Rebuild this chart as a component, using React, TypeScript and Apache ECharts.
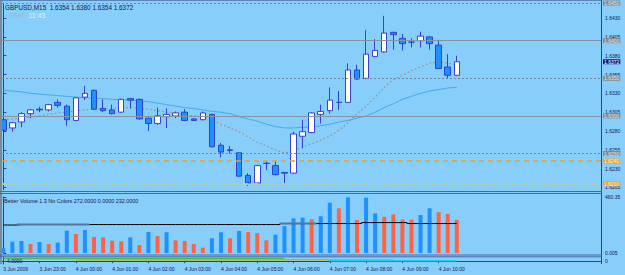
import React, { useEffect, useRef } from "react";
import * as echarts from "echarts";

// ---- price data (GBPUSD M15), bar index 0 = 3 Jun 22:00 ----
const opens = [1.6295, 1.6284, 1.6292, 1.6303, 1.6309, 1.6308, 1.6318, 1.6313, 1.6294, 1.6325, 1.6334, 1.631, 1.6308, 1.6305, 1.6323, 1.6322, 1.6297, 1.629, 1.6299, 1.63, 1.6305, 1.6296, 1.6295, 1.6302, 1.6261, 1.6255, 1.6251, 1.6221, 1.6211, 1.6237, 1.6234, 1.6225, 1.6224, 1.6273, 1.6278, 1.6302, 1.6307, 1.6318, 1.6318, 1.6361, 1.635, 1.6379, 1.6385, 1.6411, 1.6403, 1.6398, 1.64, 1.6405, 1.6394, 1.6365, 1.6354];
const highs = [1.6297, 1.6292, 1.6305, 1.6309, 1.6312, 1.6316, 1.6322, 1.6315, 1.6325, 1.634, 1.6335, 1.6322, 1.6315, 1.6323, 1.6324, 1.6323, 1.6298, 1.6311, 1.631, 1.6306, 1.6309, 1.6297, 1.6306, 1.6303, 1.6264, 1.626, 1.6252, 1.6224, 1.6235, 1.624, 1.624, 1.6225, 1.6279, 1.6295, 1.6305, 1.6315, 1.6338, 1.6333, 1.637, 1.6368, 1.6414, 1.6402, 1.6433, 1.6412, 1.6409, 1.6403, 1.6412, 1.6406, 1.6401, 1.6382, 1.638];
const lows = [1.628, 1.6279, 1.6285, 1.6297, 1.6305, 1.6306, 1.6311, 1.6287, 1.6293, 1.6321, 1.6308, 1.6305, 1.6302, 1.6304, 1.631, 1.6295, 1.628, 1.6288, 1.6284, 1.6297, 1.6293, 1.6293, 1.6294, 1.6258, 1.6245, 1.625, 1.6219, 1.6207, 1.621, 1.6228, 1.6221, 1.6208, 1.6223, 1.6257, 1.6277, 1.629, 1.6303, 1.6308, 1.6317, 1.6348, 1.6349, 1.6378, 1.6384, 1.6388, 1.6387, 1.6391, 1.6391, 1.6388, 1.6362, 1.635, 1.6354];
const closes = [1.6281, 1.6291, 1.6303, 1.6308, 1.6308, 1.6315, 1.6314, 1.6295, 1.6324, 1.633, 1.6309, 1.6307, 1.6303, 1.6322, 1.6321, 1.6296, 1.629, 1.63, 1.6302, 1.6304, 1.6294, 1.6294, 1.6304, 1.6259, 1.6252, 1.6254, 1.622, 1.6211, 1.6234, 1.6237, 1.6222, 1.6224, 1.6276, 1.6279, 1.6304, 1.6306, 1.6321, 1.6318, 1.6361, 1.6349, 1.6382, 1.6387, 1.641, 1.6408, 1.6396, 1.6398, 1.6406, 1.6396, 1.6363, 1.6354, 1.6372];

// moving averages
const maSlow = [1.6334, 1.6333, 1.6332, 1.633, 1.6329, 1.6328, 1.6327, 1.6326, 1.6325, 1.6324, 1.63236, 1.6323, 1.6322, 1.63216, 1.6321, 1.632, 1.6319, 1.6317, 1.6315, 1.6313, 1.6311, 1.631, 1.6308, 1.6306, 1.6305, 1.6303, 1.6299, 1.6296, 1.6293, 1.6289, 1.6286, 1.6284, 1.6284, 1.6285, 1.6285, 1.6287, 1.6289, 1.6292, 1.6294, 1.6297, 1.63, 1.6305, 1.6311, 1.6316, 1.6322, 1.6326, 1.633, 1.6333, 1.6335, 1.6337, 1.6338];
const maFast = [1.6295, 1.6296, 1.6297, 1.62986, 1.63, 1.6302, 1.6304, 1.6305, 1.6307, 1.6308, 1.6309, 1.6309, 1.631, 1.6311, 1.6311, 1.631, 1.6309, 1.6307, 1.6305, 1.6304, 1.6302, 1.63, 1.6298, 1.6295, 1.6289, 1.6284, 1.6279, 1.6272, 1.6265, 1.626, 1.6255, 1.6251, 1.6253, 1.6259, 1.6263, 1.6268, 1.6273, 1.6281, 1.6291, 1.6303, 1.6313, 1.6325, 1.6338, 1.6348, 1.6354, 1.636, 1.6365, 1.637, 1.6372, 1.637, 1.6368];

// Better Volume
const volumes = [39, 93, 99, 74, 90, 74, 85, 183, 156, 189, 132, 129, 101, 96, 129, 66, 173, 140, 170, 104, 99, 74, 44, 121, 170, 121, 181, 173, 164, 104, 150, 222, 285, 290, 277, 302, 413, 367, 458, 271, 455, 326, 298, 318, 274, 274, 312, 367, 335, 321, 272];
const volKind = ["b", "b", "b", "r", "b", "r", "b", "b", "r", "b", "r", "r", "r", "r", "b", "r", "b", "r", "b", "r", "r", "r", "r", "b", "b", "r", "b", "r", "r", "r", "b", "b", "b", "b", "r", "b", "b", "r", "b", "r", "b", "b", "r", "r", "r", "r", "b", "b", "r", "r", "r"];
const volAvg = [230, 230, 234, 234, 234, 234, 234, 234, 234, 234, 234, 234, 234, 234, 234, 234, 234, 234, 234, 234, 234, 234, 234, 234, 234, 234, 234, 234, 234, 234, 234, 242, 242, 242, 242, 242, 242, 242, 242, 242, 250, 250, 250, 250, 250, 242, 242, 242, 242, 242, 242];
const volAvgShadeRanges = [[2, 9], [31, 34]];

// tiny bottom indicator segments [fromIndex, toIndex, level]
const segGreen = [0, 31, 3];
const segYellow = [8, 43, 1.5];
const segCyan = [36, 50, 0.5];

// axes
const timeTickIdx = [0, 4, 8, 12, 16, 20, 24, 28, 32, 36, 40, 44, 48];
const timeLabels = ["3 Jun 2009", "3 Jun 23:00", "4 Jun 00:00", "4 Jun 01:00", "4 Jun 02:00", "4 Jun 03:00", "4 Jun 04:00", "4 Jun 05:00", "4 Jun 06:00", "4 Jun 07:00", "4 Jun 08:00", "4 Jun 09:00", "4 Jun 10:00"];
const priceTicks = [1.6205, 1.623, 1.6255, 1.628, 1.6305, 1.633, 1.6355, 1.638, 1.6405, 1.643];
const volTicks = [0, 460.35];
const volTickText = ["0.005", "460.35"];

// horizontal levels
const dottedLevels = [1.645, 1.635, 1.625];
const solidLevels = [1.64, 1.63];
const orangeLevel = 1.624;
const greenLevel = 1.621;
const bidPrice = 1.6372;

const FONT = "Liberation Sans";
const BG = "#87CEFA";
const AXIS = "#22449a";
const TXT = "#10184c";

export default function App() {
  const ref = useRef<HTMLDivElement>(null);
  useEffect(() => {
    const chart = echarts.init(ref.current as HTMLDivElement, null, { renderer: "svg" });
    const xMin = -0.1433;
    const xMax = 65.9;
    const candleData = opens.map((o, i) => [i, o, closes[i], lows[i], highs[i]]);
    const seg = (s: number[]) => opens.map((_, i) => [i, i >= s[0] && i <= s[1] ? s[2] : null]);
    const shade = volAvg.map((v, i) => [i, volAvgShadeRanges.some((r) => i >= r[0] && i <= r[1]) ? v : null]);

    const boxLabel = (txt: string, bg: string, fg: string) => ({
      show: true,
      position: "end",
      distance: 2,
      formatter: txt,
      backgroundColor: bg,
      color: fg,
      fontSize: 5,
      fontFamily: FONT,
      padding: [0, 1, 0, 1],
      lineHeight: 5,
    });

    const markData: any[] = [];
    dottedLevels.forEach((v) =>
      markData.push({ yAxis: v, lineStyle: { color: "#74869a", type: [2, 2], width: 1 }, label: boxLabel(v.toFixed(4), "#8a8a8a", "#e0e4ea") })
    );
    solidLevels.forEach((v) =>
      markData.push({ yAxis: v, lineStyle: { color: "#8494a2", type: "solid", width: 1 }, label: boxLabel(v.toFixed(4), "#8a8a8a", "#e0e4ea") })
    );
    markData.push({ yAxis: orangeLevel, lineStyle: { color: "#f0a020", type: [5, 4], width: 1.5 }, label: boxLabel(orangeLevel.toFixed(4), "#f0a530", "#fff4dc") });
    markData.push({ yAxis: greenLevel, lineStyle: { color: "#b4cca6", type: [6, 4], width: 2 }, label: boxLabel(greenLevel.toFixed(4), "#f0a530", "#fff4dc") });
    markData.push({ yAxis: bidPrice, lineStyle: { color: "rgba(0,0,0,0)", width: 1 }, label: boxLabel(bidPrice.toFixed(4), "#1c1c78", "#ffffff") });

    const xAxisBase = { type: "value", min: xMin, max: xMax, show: false, splitLine: { show: false } };

    const option: any = {
      animation: false,
      backgroundColor: BG,
      textStyle: { fontFamily: FONT },
      grid: [
        { left: 2, top: 3, width: 599, height: 186.7 },
        { left: 2, top: 197, width: 599, height: 56 },
        { left: 2, top: 257, width: 599, height: 7 },
      ],
      xAxis: [
        { ...xAxisBase, gridIndex: 0 },
        { ...xAxisBase, gridIndex: 1 },
        {
          ...xAxisBase,
          gridIndex: 2,
          show: true,
          position: "bottom",
          axisLine: { show: true, lineStyle: { color: AXIS, width: 1 } },
          axisTick: { show: true, customValues: timeTickIdx, length: 2, lineStyle: { color: AXIS } },
          axisLabel: {
            show: true,
            customValues: timeTickIdx,
            formatter: (v: number) => timeLabels[timeTickIdx.indexOf(Math.round(v))] || "",
            align: "left",
            fontSize: 5,
            margin: 2,
            color: TXT,
            fontFamily: FONT,
          },
        },
      ],
      yAxis: [
        {
          type: "value",
          gridIndex: 0,
          position: "right",
          min: 1.6202,
          max: 1.645,
          splitLine: { show: false },
          axisLine: { show: true, lineStyle: { color: AXIS } },
          axisTick: { show: true, customValues: priceTicks, length: 3, lineStyle: { color: AXIS } },
          axisLabel: { customValues: priceTicks, formatter: (v: number) => v.toFixed(4), fontSize: 5, color: TXT, margin: 4, fontFamily: FONT },
        },
        {
          type: "value",
          gridIndex: 1,
          position: "right",
          min: 0,
          max: 460.35,
          splitLine: { show: false },
          axisLine: { show: true, lineStyle: { color: AXIS } },
          axisTick: { show: true, customValues: volTicks, length: 3, lineStyle: { color: AXIS } },
          axisLabel: {
            customValues: volTicks,
            formatter: (v: number) => volTickText[v > 1 ? 1 : 0],
            fontSize: 5,
            color: TXT,
            margin: 4,
            fontFamily: FONT,
          },
        },
        {
          type: "value",
          gridIndex: 2,
          position: "right",
          min: -3,
          max: 4.5,
          splitLine: { show: false },
          axisLine: { show: true, lineStyle: { color: AXIS } },
          axisTick: { show: true, customValues: [0], length: 3, lineStyle: { color: AXIS } },
          axisLabel: { customValues: [0], formatter: () => "0", fontSize: 5, color: TXT, margin: 4, fontFamily: FONT },
        },
      ],
      series: [
        {
          type: "line",
          name: "levels",
          xAxisIndex: 0,
          yAxisIndex: 0,
          z: 1,
          data: maSlow.map((v, i) => [i, v]),
          showSymbol: false,
          lineStyle: { color: "#4ea6e6", width: 1 },
          markLine: { silent: true, precision: 4, symbol: ["none", "none"], data: markData, animation: false },
        },
        {
          type: "line",
          xAxisIndex: 0,
          yAxisIndex: 0,
          z: 2,
          data: maFast.map((v, i) => [i, v]),
          showSymbol: false,
          lineStyle: { color: "#9a8c86", width: 1.2, type: [1.5, 2.5] },
        },
        {
          type: "candlestick",
          xAxisIndex: 0,
          yAxisIndex: 0,
          z: 3,
          barWidth: 6,
          data: candleData,
          itemStyle: {
            color: "#fffff0",
            color0: "#1e90ff",
            borderColor: "#3a40d0",
            borderColor0: "#2a44d0",
            borderColorDoji: "#2a44d0",
            borderWidth: 1,
          },
        },
        {
          type: "bar",
          xAxisIndex: 1,
          yAxisIndex: 1,
          barWidth: 4,
          data: volumes.map((v, i) => ({ value: [i, v], itemStyle: { color: volKind[i] === "b" ? "#1e90ff" : "#ff6347" } })),
        },
        {
          type: "line",
          xAxisIndex: 1,
          yAxisIndex: 1,
          step: "middle",
          data: volAvg.map((v, i) => [i, v]),
          showSymbol: false,
          lineStyle: { color: "#000000", width: 1 },
          z: 4,
        },
        {
          type: "line",
          xAxisIndex: 1,
          yAxisIndex: 1,
          step: "middle",
          data: shade,
          showSymbol: false,
          connectNulls: false,
          lineStyle: { color: "#56769c", width: 2 },
          z: 5,
        },
        { type: "line", xAxisIndex: 2, yAxisIndex: 2, data: seg(segGreen), showSymbol: false, lineStyle: { color: "#48c040", width: 1.5 } },
        { type: "line", xAxisIndex: 2, yAxisIndex: 2, data: seg(segYellow), showSymbol: false, lineStyle: { color: "#d0b000", width: 1.5 } },
        { type: "line", xAxisIndex: 2, yAxisIndex: 2, data: seg(segCyan), showSymbol: false, lineStyle: { color: "#20d0f4", width: 1.5 } },
      ],
      graphic: [
        { type: "rect", z: 100, shape: { x: 0, y: 0, width: 2, height: 264 }, style: { fill: "#7d8a96" } },
        { type: "line", z: 100, shape: { x1: 0, y1: 0.5, x2: 602, y2: 0.5 }, style: { stroke: "#5a86b8", lineWidth: 1 } },
        { type: "line", z: 100, shape: { x1: 601.5, y1: 0, x2: 601.5, y2: 264 }, style: { stroke: AXIS, lineWidth: 1 } },
        { type: "line", z: 100, shape: { x1: 0, y1: 191.5, x2: 602, y2: 191.5 }, style: { stroke: "#4868a8", lineWidth: 1 } },
        { type: "line", z: 100, shape: { x1: 0, y1: 193.5, x2: 602, y2: 193.5 }, style: { stroke: "#4868a8", lineWidth: 1 } },
        { type: "line", z: 100, shape: { x1: 0, y1: 255, x2: 602, y2: 255 }, style: { stroke: "#4868a8", lineWidth: 1 } },
        { type: "line", z: 100, shape: { x1: 0, y1: 256.8, x2: 602, y2: 256.8 }, style: { stroke: "#4868a8", lineWidth: 1 } },
        {
          type: "text",
          z: 100,
          x: 5,
          y: 4,
          style: { text: "GBPUSD,M15  1.6354 1.6380 1.6354 1.6372", fontSize: 6.4, fontFamily: FONT, fill: "#0e1a4a", verticalAlign: "top" },
        },
        { type: "text", z: 100, x: 9, y: 12, style: { text: "GMT:", fontSize: 7, fontFamily: FONT, fill: "#a6b2c2", verticalAlign: "top" } },
        { type: "text", z: 100, x: 28.5, y: 12, style: { text: "11:43", fontSize: 7, fontFamily: FONT, fill: "#e6f0fa", verticalAlign: "top" } },
        {
          type: "text",
          z: 100,
          x: 4,
          y: 198.5,
          style: { text: "Better Volume 1.3 No Colors 272.0000 0.0000 232.0000", fontSize: 5.4, fontFamily: FONT, fill: "#0e1a4a", verticalAlign: "top" },
        },
        { type: "text", z: 100, x: 7, y: 258.5, style: { text: "4.0000", fontSize: 5, fontFamily: FONT, fill: "#0e1a4a", verticalAlign: "top" } },
      ],
    };
    chart.setOption(option);
    return () => chart.dispose();
  }, []);
  return <div ref={ref} style={{ position: "fixed", left: 0, top: 0, width: 625, height: 275 }} />;
}
